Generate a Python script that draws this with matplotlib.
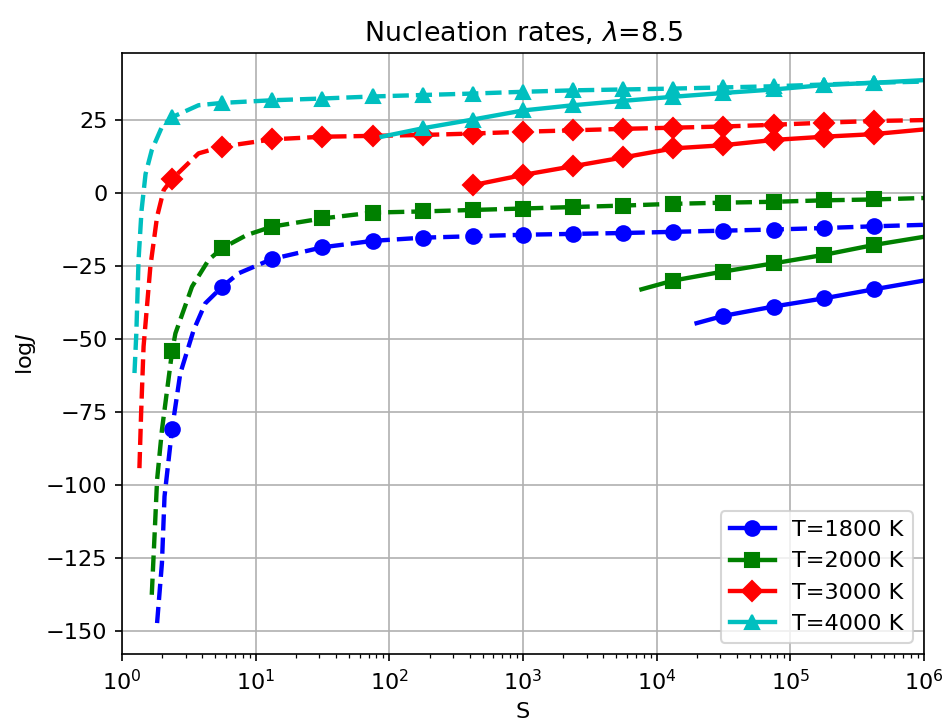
import matplotlib
matplotlib.use("Agg")
import matplotlib.pyplot as plt

plt.rcParams["font.size"] = 10.75

# supersaturation values where markers sit (same for every curve)
S_marks = [2.37, 5.62, 13.3, 31.6, 75.0, 178, 422, 1000, 2370, 5620,
           13300, 31600, 75000, 178000, 422000]

temps = [1800, 2000, 3000, 4000]
colors = ["b", "g", "r", "c"]
markers = ["o", "s", "D", "^"]

# classical curves (dashed): S and log J
S_cl_1800 = [1.83, 1.99, 2.08, 2.37, 2.73, 3.44, 4.20, 5.62, 7.46, 13.3, 31.6, 75.0,
             178, 422, 1000, 2370, 5620, 13300, 31600, 75000, 178000, 422000, 1e6]
J_cl_1800 = [-147.4, -126.8, -104.0, -80.8, -61.8, -46.9, -37.8, -32.1, -27.5, -22.6,
             -18.6, -16.4, -15.3, -14.8, -14.3, -14.0, -13.7, -13.3, -12.9, -12.5,
             -12.0, -11.4, -10.9]

S_cl_2000 = [1.67, 1.76, 1.83, 1.99, 2.37, 2.51, 3.34, 4.45, 5.62, 8.57, 13.3, 31.6,
             75.0, 178, 422, 1000, 2370, 5620, 13300, 31600, 75000, 178000, 422000, 1e6]
J_cl_2000 = [-137.7, -115.4, -98.3, -81.2, -54.3, -48.1, -32.1, -22.9, -18.9, -14.4,
             -11.5, -8.7, -6.7, -6.3, -5.8, -5.3, -4.8, -4.3, -3.7, -3.3, -3.0, -2.5,
             -2.2, -1.7]

S_cl_3000 = [1.35, 1.39, 1.45, 1.63, 1.83, 2.05, 2.37, 3.74, 5.62, 13.3, 31.6, 75.0,
             178, 422, 1000, 2370, 5620, 13300, 31600, 75000, 178000, 422000, 1e6]
J_cl_3000 = [-94.3, -75.5, -52.6, -25.2, -8.1, 1.0, 4.8, 13.6, 15.9, 18.4, 19.3, 19.6,
             19.9, 20.4, 21.0, 21.5, 22.0, 22.4, 22.8, 23.4, 24.1, 24.7, 25.0]

S_cl_4000 = [1.24, 1.28, 1.33, 1.40, 1.50, 1.67, 1.99, 2.37, 3.74, 5.62, 13.3, 31.6,
             75.0, 178, 422, 1000, 2370, 5620, 13300, 31600, 75000, 178000, 422000, 1e6]
J_cl_4000 = [-61.7, -48.0, -22.9, -6.0, 6.5, 14.7, 22.7, 26.0, 30.1, 30.9, 31.8, 32.4,
             33.1, 33.6, 34.1, 34.7, 35.2, 35.5, 35.8, 36.2, 36.6, 37.2, 37.8, 38.2]

# non-classical curves (solid)
S_nc_1800 = [19900, 31600, 75000, 178000, 422000, 1e6]
J_nc_1800 = [-44.6, -42.1, -38.9, -36.1, -33.0, -30.0]

S_nc_2000 = [7700, 13300, 31600, 75000, 178000, 422000, 1e6]
J_nc_2000 = [-33.0, -30.0, -26.9, -24.1, -21.2, -17.8, -15.0]

S_nc_3000 = [422, 1000, 2370, 5620, 13300, 31600, 75000, 178000, 422000, 1e6]
J_nc_3000 = [2.7, 6.2, 9.2, 12.2, 15.3, 16.4, 18.2, 19.3, 20.2, 21.8]

S_nc_4000 = [87.6, 178, 422, 1000, 2370, 5620, 13300, 31600, 75000, 178000, 422000, 1e6]
J_nc_4000 = [19.3, 22.2, 25.2, 28.3, 30.1, 31.6, 33.0, 34.3, 35.5, 37.0, 37.8, 38.7]

classical = [(S_cl_1800, J_cl_1800), (S_cl_2000, J_cl_2000),
             (S_cl_3000, J_cl_3000), (S_cl_4000, J_cl_4000)]
nonclassical = [(S_nc_1800, J_nc_1800), (S_nc_2000, J_nc_2000),
                (S_nc_3000, J_nc_3000), (S_nc_4000, J_nc_4000)]


def mark_idx(S):
    return [i for i, s in enumerate(S) if s in S_marks]


fig = plt.figure(figsize=(949 / 150, 721 / 150), dpi=150)
ax = fig.add_axes([122 / 949, 1 - 654 / 721, 802 / 949, 601 / 721])

for T, c, m, (Sc, Jc), (Sn, Jn) in zip(temps, colors, markers, classical, nonclassical):
    ax.plot(Sc, Jc, "--", color=c, marker=m, lw=2.1, ms=7, markevery=mark_idx(Sc))
    ax.plot(Sn, Jn, "-", color=c, marker=m, lw=2.1, ms=7, markevery=mark_idx(Sn),
            label="T=%d K" % T)

ax.set_xscale("log")
ax.set_xlim(1, 1e6)
ax.set_ylim(-158, 48)
ax.grid(True)
ax.set_xlabel("S")
ax.set_ylabel("log$J$")
ax.set_title("Nucleation rates, $\\lambda$=8.5")
ax.legend(loc="lower right")

fig.savefig("out.png", dpi=150)
